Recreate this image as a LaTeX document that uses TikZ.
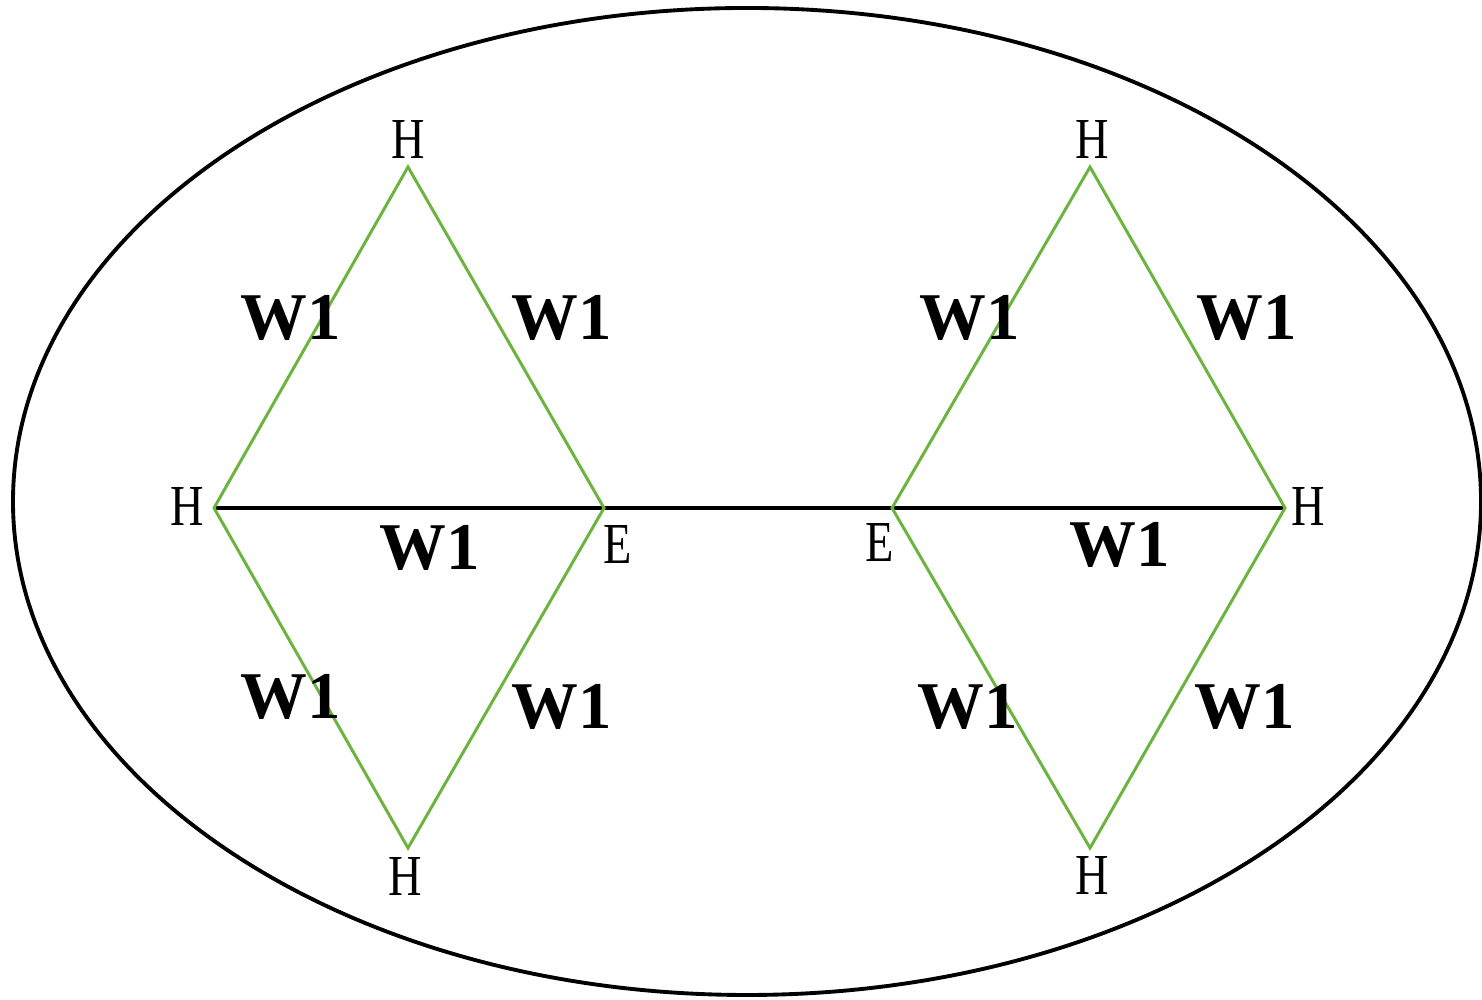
\documentclass[tikz,border=0pt]{standalone}
\usepackage{fontspec}
\setmainfont{Liberation Serif}
\newfontfamily\atomfont[FakeStretch=0.8]{Liberation Serif}
\usepackage{tikz}
\definecolor{bond}{HTML}{6DB33F}
\tikzset{
  atom/.style={inner sep=0pt,font=\atomfont\fontsize{16.5}{16.5}\selectfont},
  wlab/.style={inner sep=0pt,font=\fontsize{19}{19}\selectfont\bfseries},
  gbond/.style={draw=bond,line width=0.85pt},
  kbond/.style={draw=black,line width=1.1pt},
  shell/.style={draw=black,line width=1.1pt},
}
\begin{document}
\begin{tikzpicture}
\useasboundingbox (0,0) rectangle (14.82,10);
\begin{scope}
\clip (0,0) rectangle (14.82,10);
\draw[shell] (7.47,4.985) ellipse [x radius=7.34,y radius=4.935];
\end{scope}
% vertices
\coordinate (lt) at (4.08,8.33);
\coordinate (ll) at (2.14,4.92);
\coordinate (le) at (6.04,4.92);
\coordinate (lb) at (4.08,1.52);
\coordinate (re) at (8.92,4.92);
\coordinate (rt) at (10.90,8.33);
\coordinate (rr) at (12.85,4.92);
\coordinate (rb) at (10.90,1.52);
% bonds
\draw[kbond] (ll)--(rr);
\draw[gbond] (ll)--(lt)--(le)--(lb)--cycle;
\draw[gbond] (re)--(rt)--(rr)--(rb)--cycle;
% atoms
\node[atom] (hlt) at (4.08,8.60) {H};
\node[atom] (hll) at (1.87,4.93) {H};
\node[atom] (ele) at (6.18,4.55) {E};
\node[atom] (hlb) at (4.05,1.23) {H};
\node[atom] (hrt) at (10.92,8.60) {H};
\node[atom] (hrr) at (13.08,4.93) {H};
\node[atom] (ere) at (8.80,4.57) {E};
\node[atom] (hrb) at (10.92,1.24) {H};
% weights
\node[wlab] (w1) at (2.91,6.82) {W1};
\node[wlab] (w2) at (5.62,6.82) {W1};
\node[wlab] (w3) at (4.30,4.52) {W1};
\node[wlab] (w4) at (2.91,3.03) {W1};
\node[wlab] (w5) at (5.62,2.93) {W1};
\node[wlab] (w6) at (9.70,6.82) {W1};
\node[wlab] (w7) at (12.47,6.82) {W1};
\node[wlab] (w8) at (11.20,4.55) {W1};
\node[wlab] (w9) at (9.68,2.93) {W1};
\node[wlab] (w10) at (12.45,2.93) {W1};
\end{tikzpicture}
\end{document}
